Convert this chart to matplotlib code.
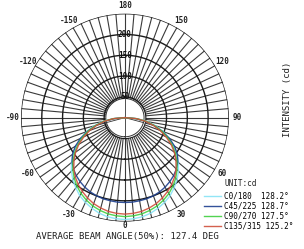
import numpy as np
import matplotlib
matplotlib.use("Agg")
import matplotlib.pyplot as plt

# ---- data ----
angles_deg = [0, 5, 10, 15, 20, 25, 30, 35, 40, 45, 50, 55, 60, 65, 70, 75, 80, 85, 90]
c0_180   = [245, 244, 242, 238, 232, 225, 217, 206, 195, 182, 168, 152, 135, 117, 98, 77, 55, 30, 0]
c45_225  = [204, 204, 203, 202, 200, 197, 193, 188, 182, 175, 166, 154, 138, 118, 95, 72, 48, 25, 0]
c90_270  = [238, 237, 235, 231, 226, 219, 211, 201, 190, 177, 163, 148, 131, 113, 94, 73, 52, 29, 0]
c135_315 = [232, 231, 229, 225, 220, 213, 205, 196, 186, 174, 160, 145, 128, 109, 90, 70, 50, 28, 0]
series_labels = ["C0/180  128.2\u00b0", "C45/225 128.7\u00b0", "C90/270 127.5\u00b0", "C135/315 125.2\u00b0"]
series_colors = ["#86e3f5", "#1d3f8f", "#3fcf3f", "#d0503c"]
ring_values = [50, 100, 150, 200, 250]
ring_labels = ["50", "100", "150", "200"]
angle_ticks = [0, 30, 60, 90, 120, 150, 180, -150, -120, -90, -60, -30]
angle_tick_labels = ["0", "30", "60", "90", "120", "150", "180", "-150", "-120", "-90", "-60", "-30"]
rmax = 250
center_r = 46

mono = "DejaVu Sans Mono"

fig = plt.figure(figsize=(3.04, 2.49), dpi=100)
fig.patch.set_facecolor("white")
ax = fig.add_axes([0.069, 0.110, 0.684, 0.835], projection="polar")
ax.set_theta_zero_location("S")
ax.set_theta_direction(1)
ax.set_ylim(0, rmax)
ax.grid(False)
ax.set_xticks([])
ax.set_yticks([])
ax.spines["polar"].set_visible(False)
ax.set_facecolor("white")

full = np.linspace(0, 2 * np.pi, 361)
# spokes every 5 degrees
for a in range(0, 360, 5):
    t = np.deg2rad(a)
    ax.plot([t, t], [0, rmax], color="#3a3a3a", lw=0.8, zorder=1)
# rings
for rv in ring_values:
    ax.plot(full, [rv] * len(full), color="#1a1a1a", lw=1.0, zorder=2)

# white center circle
ax.fill_between(full, 0, center_r, color="white", zorder=3)
ax.plot(full, [center_r] * len(full), color="#333333", lw=0.7, zorder=3)
for a in [0, 180, 75, -75]:
    t = np.deg2rad(a)
    ax.plot([t, t], [0, center_r], color="#333333", lw=0.6, zorder=3)

# curves
for vals, lab, col in zip([c0_180, c45_225, c90_270, c135_315], series_labels, series_colors):
    th = np.deg2rad(np.concatenate([-np.array(angles_deg[::-1]), np.array(angles_deg[1:])]))
    rr = np.concatenate([np.array(vals[::-1]), np.array(vals[1:])])
    ax.plot(th, rr, color=col, lw=1.0, label=lab, zorder=4, alpha=0.9)

# radial labels along the 180 axis
for rv, rl in zip(ring_values[:-1], ring_labels):
    ax.text(np.pi, rv, rl, ha="center", va="center", fontsize=5.5, family=mono,
            fontweight="bold", color="#111111", zorder=5)

# angle labels
for at, al in zip(angle_ticks, angle_tick_labels):
    rpos = rmax * (1.035 if at == 0 else 1.08)
    ax.text(np.deg2rad(at), rpos, al, ha="center", va="center", fontsize=5.5,
            family=mono, fontweight="bold", color="#222222", clip_on=False)

fig.text(0.42, 0.050, "AVERAGE BEAM ANGLE(50%): 127.4 DEG", ha="center", va="center",
         fontsize=6.5, family=mono, color="#222222")
fig.text(0.945, 0.60, "INTENSITY (cd)", rotation=90, ha="center", va="center",
         fontsize=6.5, family=mono, color="#222222")
fig.text(0.74, 0.265, "UNIT:cd", ha="left", va="center", fontsize=5.5, family=mono,
         color="#222222")

leg = fig.legend(loc="upper left", bbox_to_anchor=(0.655, 0.25), frameon=False,
                 prop={"family": mono, "size": 5.5},
                 handlelength=2.2, handletextpad=0.4, labelspacing=0.15,
                 borderpad=0.1)

fig.savefig("out.png", dpi=100, facecolor="white")
